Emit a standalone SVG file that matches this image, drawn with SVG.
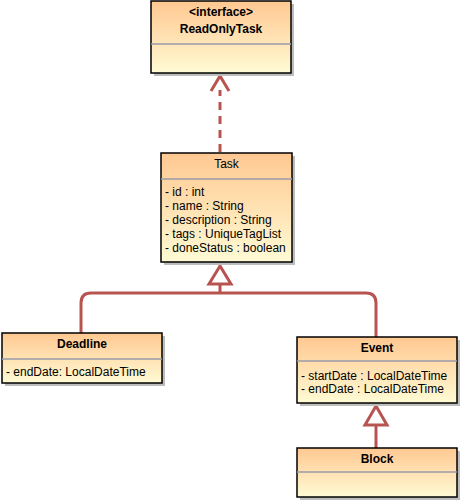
<svg xmlns="http://www.w3.org/2000/svg" width="461" height="503" viewBox="0 0 461 503">
<defs>
<linearGradient id="g" x1="0" y1="0" x2="0" y2="1">
<stop offset="0" stop-color="#FFC891"/>
<stop offset="1" stop-color="#FFFBD4"/>
</linearGradient>
<style>
.box{fill:url(#g);stroke:#000;stroke-width:1.5}
.sh{fill:#BDBDBD}
.div{stroke:#9A9AAA;stroke-width:1.5}
text{font-family:"Liberation Sans",Arial,sans-serif;font-size:12px;fill:#000}
.t{text-anchor:middle}
.b{font-weight:bold}
.c{fill:none;stroke:#B85450;stroke-width:3}
</style>
</defs>
<rect width="461" height="503" fill="#fff"/>
<g id="connectors">
<path class="c" d="M220 152 V90" stroke-dasharray="8,6"/>
<path class="c" d="M211 91 L220 76 L229 91"/>
<path class="c" d="M220 284 V293 M81 333 V303 Q81 293 91 293 H366 Q376 293 376 303 V337"/>
<path class="c" d="M220 266 L209 284 L231 284 Z" fill="#fff"/>
<path class="c" d="M376 448 V426"/>
<path class="c" d="M376 406 L365 425 L387 425 Z" fill="#fff"/>
</g>
<g id="ReadOnlyTask">
<rect class="sh" x="154" y="4" width="140" height="72"/>
<rect class="box" x="151" y="1" width="140" height="72"/>
<line class="div" x1="151" y1="44" x2="291" y2="44"/>
<text class="t b" x="221" y="16">&lt;interface&gt;</text>
<text class="t b" x="221" y="33">ReadOnlyTask</text>
</g>
<g id="Task">
<rect class="sh" x="164" y="156" width="131" height="109"/>
<rect class="box" x="161" y="153" width="131" height="109"/>
<line class="div" x1="161" y1="179" x2="292" y2="179"/>
<text class="t" x="226.5" y="168">Task</text>
<text x="165" y="196">- id : int</text>
<text x="165" y="210">- name : String</text>
<text x="165" y="224">- description : String</text>
<text x="165" y="238">- tags : UniqueTagList</text>
<text x="165" y="252">- doneStatus : boolean</text>
</g>
<g id="Deadline">
<rect class="sh" x="5" y="336" width="160" height="50"/>
<rect class="box" x="2" y="333" width="160" height="50"/>
<line class="div" x1="2" y1="359" x2="162" y2="359"/>
<text class="t b" x="82" y="348">Deadline</text>
<text x="6" y="376">- endDate: LocalDateTime</text>
</g>
<g id="Event">
<rect class="sh" x="300" y="340" width="160" height="66"/>
<rect class="box" x="297" y="337" width="160" height="66"/>
<line class="div" x1="297" y1="361" x2="457" y2="361"/>
<text class="t b" x="377" y="352">Event</text>
<text x="301" y="380">- startDate : LocalDateTime</text>
<text x="301" y="393">- endDate : LocalDateTime</text>
</g>
<g id="Block">
<rect class="sh" x="300" y="451" width="160" height="49"/>
<rect class="box" x="297" y="448" width="160" height="49"/>
<line class="div" x1="297" y1="472" x2="457" y2="472"/>
<text class="t b" x="377" y="463">Block</text>
</g>
</svg>
